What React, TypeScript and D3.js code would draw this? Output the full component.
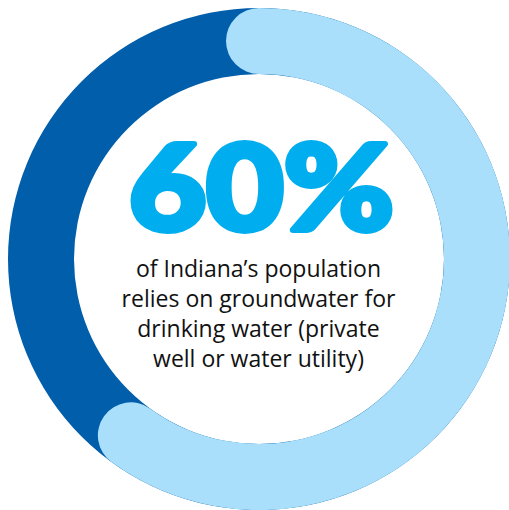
import React from "react";
import * as d3 from "d3";

const shares = [60, 40];
const segmentLabels = ["Groundwater", "Other"];
const headline = "60%";
const captionLines = [
  "of Indiana\u2019s population",
  "relies on groundwater for",
  "drinking water (private",
  "well or water utility)",
];

export default function App() {
  const W = 509, H = 510;
  const cx = 259, cy = 259;
  const rOuter = 251, rInner = 185;
  const rMid = (rOuter + rInner) / 2;
  const thick = rOuter - rInner;
  const total = d3.sum(shares);
  const angle = d3.scaleLinear().domain([0, total]).range([0, 2 * Math.PI]);

  const ring = d3.arc()({ innerRadius: rInner, outerRadius: rOuter, startAngle: 0, endAngle: 2 * Math.PI }) as string;
  const path = d3.path();
  const a0 = angle(0) - Math.PI / 2;
  const a1 = angle(shares[0]) - Math.PI / 2;
  path.arc(0, 0, rMid, a0, a1, false);
  const lineY = d3.scaleLinear().domain([0, 1]).range([277, 307]);

  return (
    <svg width={W} height={H} style={{ position: "absolute", left: 0, top: 0 }}>
      <rect width={W} height={H} fill="#fff" />
      <g transform={`translate(${cx},${cy})`}>
        <path d={ring} fill="#005EAB" aria-label={segmentLabels[1]} />
        <path d={path.toString()} fill="none" stroke="#A9DFFA" strokeWidth={thick} strokeLinecap="round" aria-label={segmentLabels[0]} />
      </g>
      <g transform="translate(261.5,230) scale(1.13,1)">
        <text x={0} y={0} textAnchor="middle" fontFamily="Lato" fontWeight={900} fontSize={118} fill="#00AEEF" stroke="#00AEEF" strokeWidth={6} strokeLinejoin="round">
          {headline}
        </text>
      </g>
      {captionLines.map((t, i) => (
        <text key={i} x={258.5} y={lineY(i)} textAnchor="middle" fontFamily="'Open Sans'" fontSize={23} fill="#111">
          {t}
        </text>
      ))}
    </svg>
  );
}
